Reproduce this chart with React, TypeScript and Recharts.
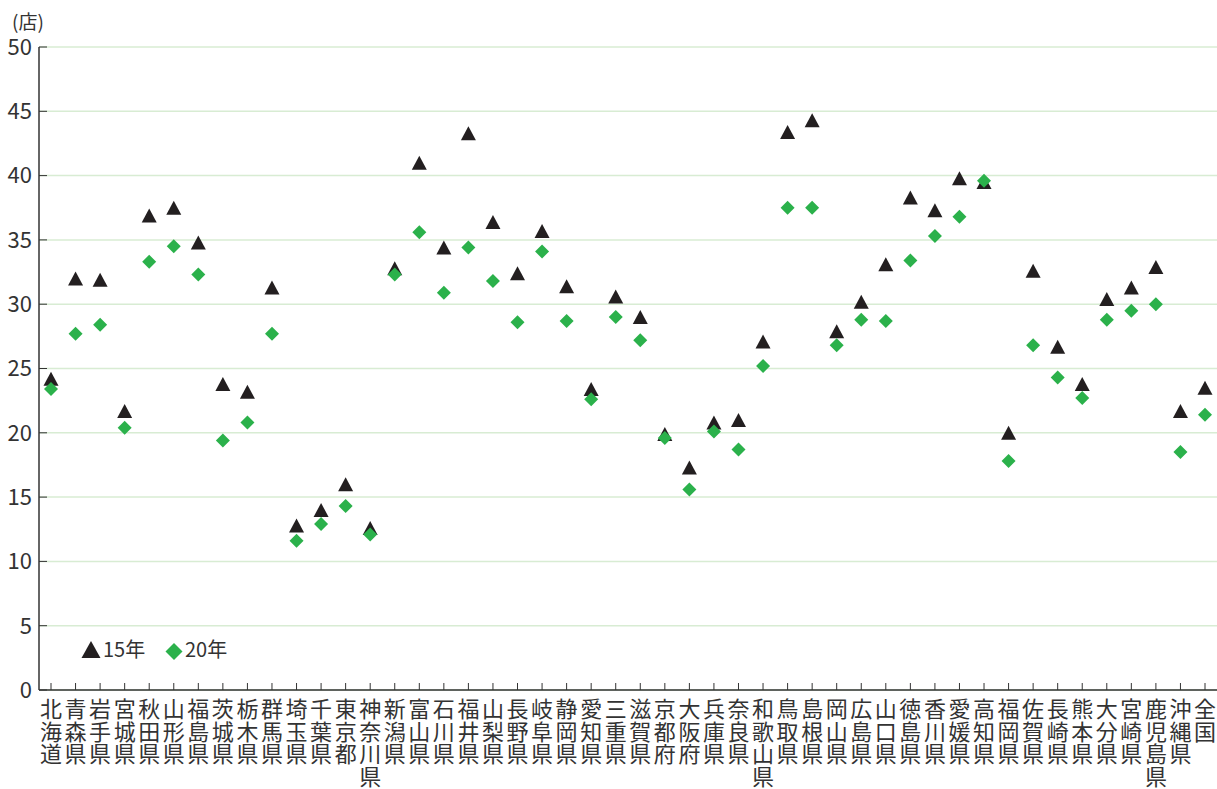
import React from 'react';
import { ComposedChart, Scatter, XAxis, YAxis, CartesianGrid, Legend } from 'recharts';

// 都道府県別 店舗数（人口10万人あたり）
const prefectures = [
  '北海道', '青森県', '岩手県', '宮城県', '秋田県', '山形県', '福島県', '茨城県',
  '栃木県', '群馬県', '埼玉県', '千葉県', '東京都', '神奈川県', '新潟県', '富山県',
  '石川県', '福井県', '山梨県', '長野県', '岐阜県', '静岡県', '愛知県', '三重県',
  '滋賀県', '京都府', '大阪府', '兵庫県', '奈良県', '和歌山県', '鳥取県', '島根県',
  '岡山県', '広島県', '山口県', '徳島県', '香川県', '愛媛県', '高知県', '福岡県',
  '佐賀県', '長崎県', '熊本県', '大分県', '宮崎県', '鹿児島県', '沖縄県', '全国',
];

const year15 = [
  24.2, 32.0, 31.9, 21.7, 36.9, 37.5, 34.8, 23.8,
  23.2, 31.3, 12.8, 14.0, 16.0, 12.6, 32.8, 41.0,
  34.4, 43.3, 36.4, 32.4, 35.7, 31.4, 23.4, 30.6,
  29.0, 19.9, 17.3, 20.8, 21.0, 27.1, 43.4, 44.3,
  27.9, 30.2, 33.1, 38.3, 37.3, 39.8, 39.5, 20.0,
  32.6, 26.7, 23.8, 30.4, 31.3, 32.9, 21.7, 23.5,
];

const year20 = [
  23.4, 27.7, 28.4, 20.4, 33.3, 34.5, 32.3, 19.4,
  20.8, 27.7, 11.6, 12.9, 14.3, 12.1, 32.3, 35.6,
  30.9, 34.4, 31.8, 28.6, 34.1, 28.7, 22.6, 29.0,
  27.2, 19.6, 15.6, 20.1, 18.7, 25.2, 37.5, 37.5,
  26.8, 28.8, 28.7, 33.4, 35.3, 36.8, 39.6, 17.8,
  26.8, 24.3, 22.7, 28.8, 29.5, 30.0, 18.5, 21.4,
];

const yTicks = [0, 5, 10, 15, 20, 25, 30, 35, 40, 45, 50];

const FONT = "'Noto Sans CJK JP', 'Noto Sans', sans-serif";
const TEXT = '#333';
const BLACK = '#231f20';
const GREEN = '#2bb14b';

const rows = prefectures.map((name, i) => ({ name, y15: year15[i], y20: year20[i] }));

const Triangle = (props: any) => {
  const { cx, cy } = props;
  if (cx == null || cy == null) return null;
  return <polygon points={`${cx},${cy - 7} ${cx - 7.5},${cy + 7} ${cx + 7.5},${cy + 7}`} fill={BLACK} />;
};

const Diamond = (props: any) => {
  const { cx, cy } = props;
  if (cx == null || cy == null) return null;
  return <polygon points={`${cx},${cy - 7} ${cx + 7},${cy} ${cx},${cy + 7} ${cx - 7},${cy}`} fill={GREEN} />;
};

// prefecture names written top-to-bottom, one character per line
const PrefTick = (props: any) => {
  const { x, y, payload } = props;
  const chars = Array.from(String(payload.value));
  return (
    <text x={x} y={y + 27} textAnchor="middle" fontSize={22} fontFamily={FONT} fill={TEXT}>
      {chars.map((c, i) => (
        <tspan key={i} x={x} dy={i === 0 ? 0 : 22.5}>{c}</tspan>
      ))}
    </text>
  );
};

const LegendBox = () => (
  <svg width={180} height={40} style={{ display: 'block', overflow: 'visible' }}>
    <polygon points="11,5 1.5,22 20.5,22" fill={BLACK} />
    <text x={23} y={21} fontSize={20} fontFamily={FONT} fill={TEXT}>15年</text>
    <polygon points="94,7 102.5,15.5 94,24 85.5,15.5" fill={GREEN} />
    <text x={105} y={21} fontSize={20} fontFamily={FONT} fill={TEXT}>20年</text>
  </svg>
);

const App = () => {
  return (
    <div style={{ position: 'absolute', left: 0, top: 0, background: '#fff' }}>
      <ComposedChart
        width={1217}
        height={789}
        data={rows}
        margin={{ top: 47, right: 0, left: 0, bottom: 0 }}
      >
        <CartesianGrid vertical={false} stroke="#d8ecd3" strokeWidth={1.5} />
        <XAxis
          dataKey="name"
          type="category"
          scale="point"
          padding={{ left: 12, right: 12 }}
          interval={0}
          height={99}
          axisLine={{ stroke: TEXT, strokeWidth: 1.5 }}
          tickLine={{ stroke: TEXT, strokeWidth: 1 }}
          tickSize={-7}
          tickMargin={7}
          tick={<PrefTick />}
        />
        <YAxis
          type="number"
          domain={[0, 50]}
          ticks={yTicks}
          interval={0}
          width={39}
          axisLine={{ stroke: TEXT, strokeWidth: 1.5 }}
          tickLine={{ stroke: TEXT, strokeWidth: 1 }}
          tickSize={-8}
          tickMargin={15}
          tick={{ fontSize: 22, fontFamily: FONT, fill: TEXT }}
          label={() => (
            <text x={28} y={29} textAnchor="middle" fontSize={19} fontFamily={FONT} fill={TEXT}>
              (店)
            </text>
          )}
        />
        <Legend
          layout="horizontal"
          verticalAlign="middle"
          align="center"
          content={() => <LegendBox />}
          wrapperStyle={{ left: 80, top: 636, width: 180, height: 40 }}
        />
        <Scatter name="15年" dataKey="y15" shape={<Triangle />} isAnimationActive={false} />
        <Scatter name="20年" dataKey="y20" shape={<Diamond />} isAnimationActive={false} />
      </ComposedChart>
    </div>
  );
};

export default App;
